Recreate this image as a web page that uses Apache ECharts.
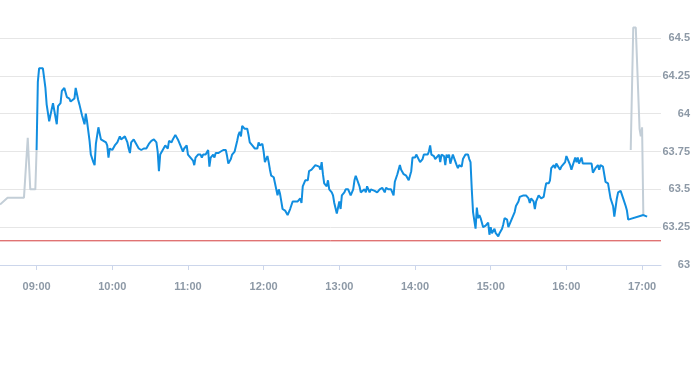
<!DOCTYPE html>
<html>
<head>
<meta charset="utf-8">
<script src="https://cdn.jsdelivr.net/npm/echarts@6/dist/echarts.min.js"></script>
<style>
html,body{margin:0;padding:0;background:#fff;}
#chart{width:693px;height:365px;}
</style>
</head>
<body>
<div id="chart"></div>
<script>
// All times are minutes after the 09:00 open.
const hourTicks = [0, 60, 120, 180, 240, 300, 360, 420, 480];

// Pre-market (grey)
const preMin = [-29, -23, -10, -7, -5, -1, 0];
const preVal = [63.40, 63.445, 63.445, 63.84, 63.50, 63.50, 63.76];

// Regular session (blue)
const sessionMin = [0,1,2,5,7,8,10,11,13,14,16,17,19,20,22,24,26,27,28,30,31,33,34,36,38,39,40,42,43,45,46,47,49,51,53,55,56,57,58,60,62,64,66,67,68,70,71,72,73,74,75,77,79,81,83,85,86,87,89,91,93,95,96,97,98,100,101,102,104,105,107,108,110,111,112,114,116,117,119,120,122,124,125,126,128,130,131,132,134,136,137,138,140,141,142,144,146,148,150,151,152,154,155,157,159,160,161,162,163,165,167,168,169,171,172,173,175,176,177,179,180,181,182,183,184,185,186,188,189,191,192,193,194,195,197,198,199,201,202,203,205,207,209,210,211,213,215,216,218,219,221,222,224,225,226,227,228,230,231,232,234,235,236,238,240,241,242,244,245,247,248,249,251,252,253,254,256,257,258,260,261,262,264,265,266,268,269,270,272,273,274,276,277,278,279,281,282,283,284,286,287,288,289,291,292,293,295,296,297,298,300,301,302,304,306,307,308,310,311,312,313,315,316,317,319,320,321,323,324,325,326,327,328,330,331,333,334,335,337,338,340,342,343,344,345,346,348,349,350,351,352,354,355,356,358,359,360,361,363,364,366,367,369,370,371,373,374,375,376,378,379,380,382,383,384,386,387,388,390,391,392,394,395,396,398,399,400,402,403,404,406,407,408,410,411,412,413,415,416,417,419,420,421,423,424,425,427,428,429,430,432,433,434,437,438,440,441,442,443,445,446,447,449,450,451,453,454,455,457,458,459,460,461,463,464,465,467,468,469,470,481,484];
const sessionVal = [63.76,64.21,64.30,64.30,64.17,64.06,63.95,63.94,64.07,64.08,63.93,64.05,64.07,64.15,64.17,64.11,64.10,64.08,64.09,64.10,64.17,64.09,64.06,63.99,63.93,64.00,63.95,63.82,63.73,63.68,63.66,63.80,63.91,63.83,63.82,63.81,63.79,63.71,63.77,63.76,63.79,63.81,63.85,63.83,63.82,63.85,63.86,63.81,63.77,63.74,63.81,63.83,63.80,63.77,63.76,63.77,63.76,63.77,63.80,63.82,63.83,63.81,63.75,63.62,63.73,63.76,63.75,63.79,63.77,63.82,63.81,63.83,63.86,63.86,63.83,63.79,63.75,63.77,63.79,63.73,63.71,63.69,63.66,63.71,63.73,63.73,63.71,63.73,63.73,63.76,63.65,63.71,63.73,63.71,63.74,63.74,63.75,63.76,63.76,63.72,63.67,63.70,63.73,63.75,63.82,63.86,63.88,63.85,63.92,63.90,63.90,63.86,63.81,63.79,63.79,63.77,63.77,63.81,63.79,63.80,63.75,63.68,63.70,63.72,63.68,63.63,63.59,63.58,63.54,63.46,63.50,63.47,63.42,63.37,63.36,63.36,63.33,63.37,63.38,63.42,63.42,63.42,63.44,63.41,63.52,63.56,63.56,63.62,63.63,63.64,63.66,63.67,63.65,63.63,63.68,63.60,63.54,63.52,63.56,63.50,63.48,63.46,63.41,63.34,63.42,63.37,63.46,63.48,63.50,63.50,63.50,63.46,63.50,63.56,63.59,63.58,63.52,63.48,63.48,63.50,63.48,63.52,63.48,63.50,63.50,63.49,63.50,63.48,63.50,63.49,63.51,63.48,63.51,63.50,63.50,63.50,63.50,63.46,63.55,63.60,63.61,63.66,63.63,63.60,63.61,63.59,63.56,63.59,63.62,63.71,63.71,63.73,63.74,63.68,63.70,63.73,63.74,63.73,63.75,63.79,63.73,63.72,63.70,63.71,63.73,63.68,63.73,63.72,63.66,63.73,63.71,63.73,63.67,63.73,63.73,63.66,63.64,63.66,63.65,63.70,63.73,63.73,63.70,63.68,63.50,63.35,63.24,63.38,63.31,63.33,63.31,63.25,63.24,63.26,63.28,63.20,63.25,63.21,63.24,63.21,63.19,63.21,63.24,63.27,63.31,63.30,63.25,63.27,63.28,63.33,63.35,63.39,63.42,63.45,63.46,63.46,63.47,63.46,63.44,63.41,63.44,63.42,63.37,63.42,63.46,63.47,63.44,63.45,63.50,63.54,63.54,63.56,63.64,63.66,63.64,63.67,63.68,63.63,63.65,63.66,63.68,63.72,63.71,63.66,63.63,63.64,63.71,63.68,63.71,63.67,63.71,63.67,63.67,63.67,63.68,63.67,63.61,63.62,63.64,63.66,63.63,63.66,63.65,63.64,63.55,63.54,63.49,63.44,63.39,63.32,63.31,63.44,63.48,63.49,63.48,63.44,63.39,63.36,63.30,63.29,63.33,63.32];

// After-hours (grey)
const postMin = [471, 473, 475, 478, 479, 480, 481, 482];
const postVal = [63.76, 64.57, 64.57, 63.90, 63.85, 63.91, 63.33, 63.33];

// Previous close (red line), spanning the whole axis range
const axisStart = -29;   // 08:31
const axisEnd = 495;     // 17:15
const prevClose = 63.16;

function zip(xs, ys) { return xs.map((x, i) => [x, ys[i]]); }
function fmtTime(m) {
  const t = 9 * 60 + m;
  const h = Math.floor(t / 60), mm = t % 60;
  return String(h).padStart(2, '0') + ':' + String(mm).padStart(2, '0');
}

const chart = echarts.init(document.getElementById('chart'), null, {renderer: 'canvas'});
const labelColor = '#8d99a6';
const fontFamily = '"Liberation Sans", Arial, sans-serif';

chart.setOption({
  animation: false,
  backgroundColor: '#ffffff',
  grid: {left: 0, right: 30, top: 22.9, bottom: 100, containLabel: false},
  xAxis: {
    type: 'value',
    min: axisStart,
    max: axisEnd,
    axisLine: {show: true, lineStyle: {color: '#ccd6eb', width: 1}},
    axisTick: {show: true, length: 5, customValues: hourTicks, lineStyle: {color: '#ccd6eb'}},
    splitLine: {show: false},
    axisLabel: {
      customValues: hourTicks,
      formatter: fmtTime,
      color: labelColor,
      fontSize: 11,
      fontWeight: 'bold',
      fontFamily: fontFamily,
      margin: 16
    }
  },
  yAxis: {
    type: 'value',
    position: 'right',
    min: 63,
    max: 64.6,
    interval: 0.25,
    axisLine: {show: false},
    axisTick: {show: false},
    splitLine: {show: true, showMaxLine: false, lineStyle: {color: '#e6e6e6', width: 1}},
    axisLabel: {
      showMaxLabel: false,
      align: 'right',
      margin: 29,
      color: labelColor,
      fontSize: 11,
      fontWeight: 'bold',
      fontFamily: fontFamily
    }
  },
  series: [
    {
      name: 'prevClose',
      type: 'line',
      data: [[axisStart, prevClose], [axisEnd, prevClose]],
      showSymbol: false,
      symbol: 'none',
      silent: true,
      lineStyle: {color: '#d43d3d', width: 1},
      z: 1
    },
    {
      name: 'pre',
      type: 'line',
      data: zip(preMin, preVal),
      showSymbol: false,
      symbol: 'none',
      lineStyle: {color: '#c3ced7', width: 2},
      z: 2
    },
    {
      name: 'post',
      type: 'line',
      data: zip(postMin, postVal),
      showSymbol: false,
      symbol: 'none',
      lineStyle: {color: '#c3ced7', width: 2},
      z: 2
    },
    {
      name: 'session',
      type: 'line',
      data: zip(sessionMin, sessionVal),
      showSymbol: false,
      symbol: 'none',
      lineStyle: {color: '#118ee0', width: 2},
      z: 3
    }
  ]
});
</script>
</body>
</html>
